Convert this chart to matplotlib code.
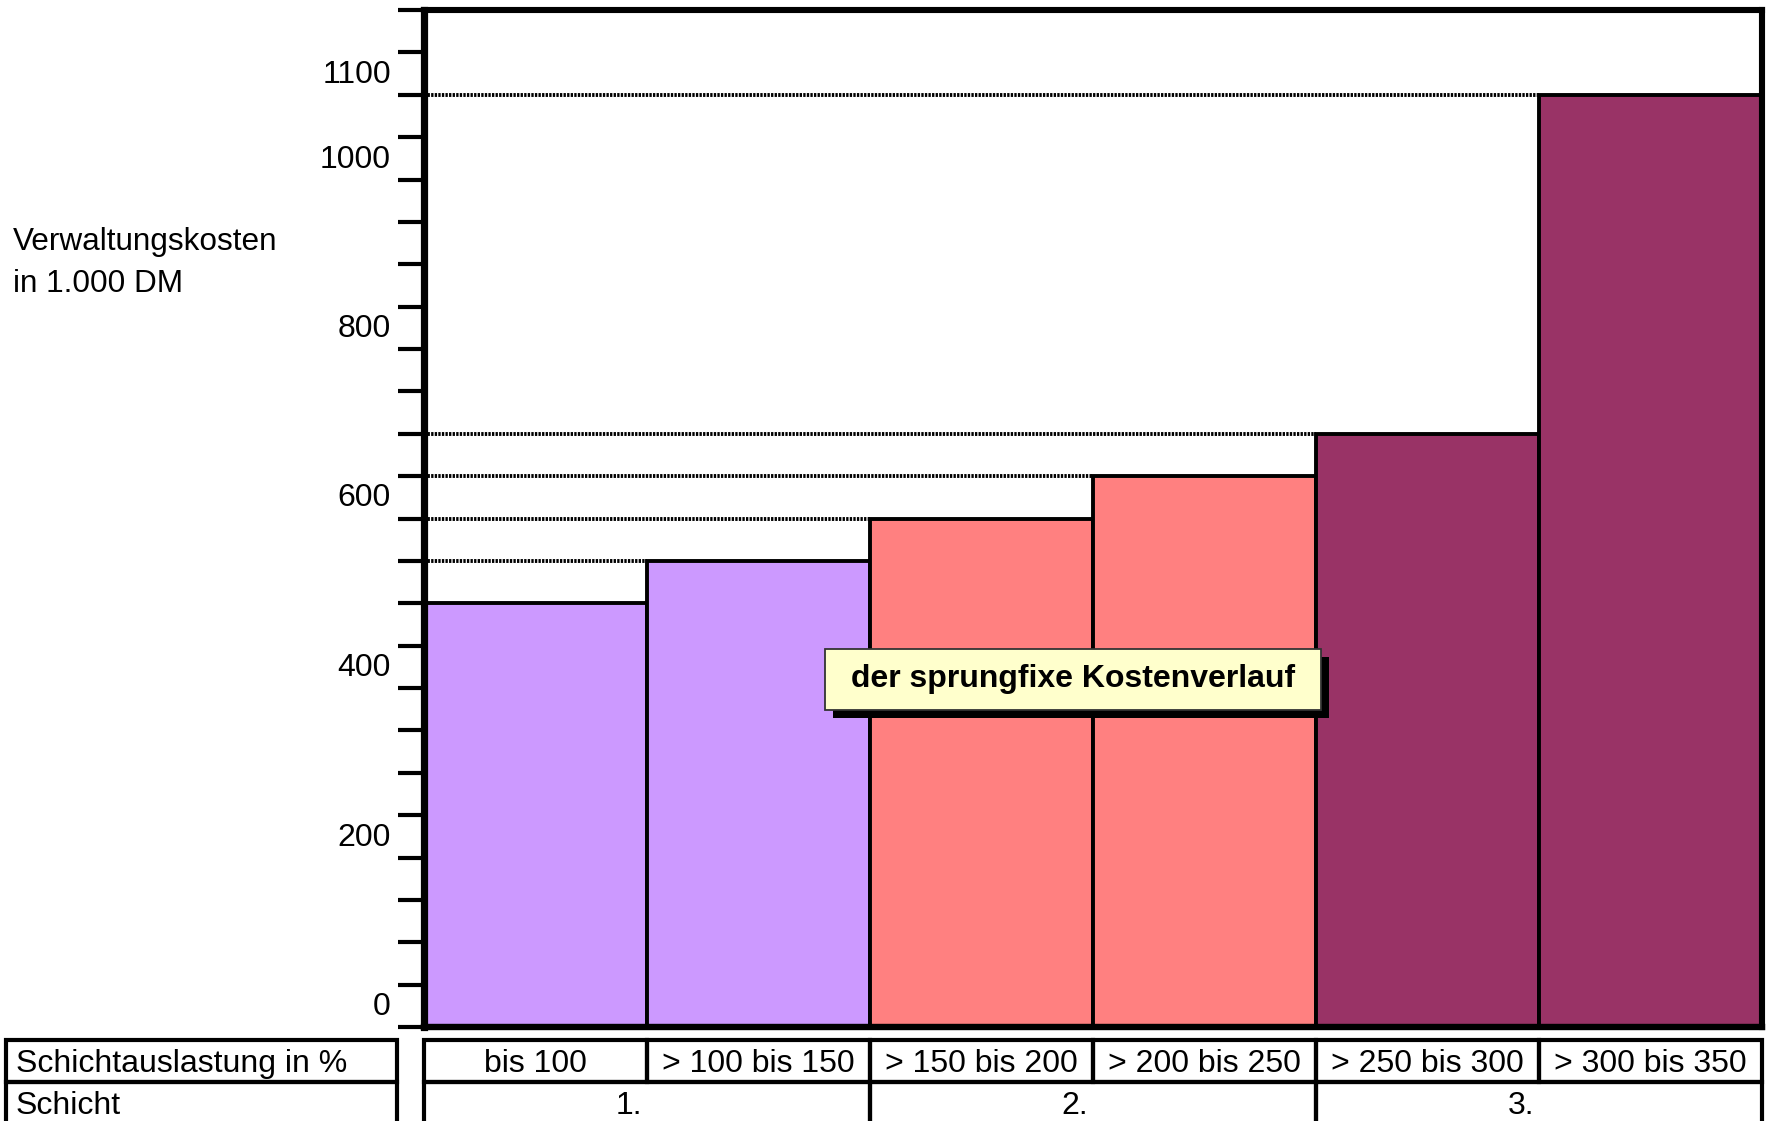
import numpy as np
import matplotlib
matplotlib.use("Agg")
import matplotlib.pyplot as plt
from matplotlib.patches import Rectangle
from matplotlib.transforms import blended_transform_factory, ScaledTranslation

plt.rcParams['font.family'] = ['Liberation Sans', 'DejaVu Sans']

# --- data -------------------------------------------------------------
load_ranges = ["bis 100", "> 100 bis 150", "> 150 bis 200",
               "> 200 bis 250", "> 250 bis 300", "> 300 bis 350"]
costs = [500, 550, 600, 650, 700, 1100]          # Verwaltungskosten in 1.000 DM
shift_of_range = [0, 0, 1, 1, 2, 2]
shift_labels = ["1.", "2.", "3."]
shift_colors = ["#CC99FF", "#FF8080", "#993366"]
ytick_values = [0, 200, 400, 600, 800, 1000, 1100]
y_max = 1200
y_step = 50

W, H = 1766, 1121
FS = 23
fig = plt.figure(figsize=(W / 100, H / 100), dpi=100)
ax = fig.add_axes([424 / W, 1 - 1027 / H, 1338 / W, 1017 / H])

n = len(costs)
x = np.arange(n)
bar_colors = [shift_colors[s] for s in shift_of_range]
ax.bar(x, costs, width=1.0, align='edge', color=bar_colors,
       edgecolor='black', linewidth=2.8, zorder=3)

# dotted guide lines from the axis to each step of the cost curve
ax.hlines(costs[1:], 0, x[1:], colors='black', linewidth=2.8,
          linestyles=(0, (0.6, 0.32)), zorder=2)

ax.set_xlim(0, n)
ax.set_ylim(0, y_max)
ax.set_xticks([])
ax.set_yticks(np.arange(0, y_max + 1, y_step))
ax.set_yticklabels([])
ax.tick_params(axis='y', direction='out', length=18.7, width=3.0, color='black')
for side, lw in (('left', 5.2), ('top', 4.4), ('right', 4.4), ('bottom', 4.6)):
    ax.spines[side].set_linewidth(lw)
    ax.spines[side].set_zorder(5)

# value labels on the y axis (set slightly above their ticks)
ylab_tr = blended_transform_factory(ax.transAxes, ax.transData)
for v in ytick_values:
    ax.annotate(str(v), xy=(0, v), xycoords=ylab_tr, xytext=(-33, 12),
                textcoords='offset pixels', ha='right', va='baseline',
                fontsize=FS, annotation_clip=False)

# axis title
fig.text(13 / W, 1 - 250 / H, "Verwaltungskosten", ha='left', va='baseline', fontsize=22.7)
fig.text(13 / W, 1 - 292 / H, "in 1.000 DM", ha='left', va='baseline', fontsize=22.7)

# caption box with drop shadow
bx0, bx1 = (825 - 424) / 1338, (1321 - 424) / 1338
by0, by1 = (1027 - 710) / 1017, (1027 - 649) / 1017
shadow_tr = ax.transAxes + ScaledTranslation(8 / 100, -8 / 100, fig.dpi_scale_trans)
ax.add_patch(Rectangle((bx0, by0), bx1 - bx0, by1 - by0, transform=shadow_tr,
                       facecolor='black', edgecolor='none', zorder=6, clip_on=False))
ax.add_patch(Rectangle((bx0, by0), bx1 - bx0, by1 - by0, transform=ax.transAxes,
                       facecolor='#FFFFCC', edgecolor='#333333', linewidth=1.3,
                       zorder=7, clip_on=False))
ax.text((bx0 + bx1) / 2, (by0 + by1) / 2, "der sprungfixe Kostenverlauf",
        transform=ax.transAxes, ha='center', va='center', fontsize=FS,
        fontweight='bold', zorder=8)

# --- table under the chart ---------------------------------------------
row1_top, row1_bot = 1 - 1040 / H, 1 - 1082 / H
row2_top, row2_bot = row1_bot, 1 - 1130 / H
tbl_lw = 3.0
tbl_tr = blended_transform_factory(ax.transData, fig.transFigure)

for i, lab in enumerate(load_ranges):
    fig.add_artist(Rectangle((i, row1_bot), 1, row1_top - row1_bot, transform=tbl_tr,
                             facecolor='none', edgecolor='black', linewidth=tbl_lw,
                             clip_on=False))
    fig.text(i + 0.5, 1 - 1072 / H, lab, transform=tbl_tr, ha='center',
             va='baseline', fontsize=FS)

for g, lab in enumerate(shift_labels):
    members = [i for i, s in enumerate(shift_of_range) if s == g]
    g0, g1 = min(members), max(members) + 1
    fig.add_artist(Rectangle((g0, row2_bot), g1 - g0, row2_top - row2_bot,
                             transform=tbl_tr, facecolor='none', edgecolor='black',
                             linewidth=tbl_lw, clip_on=False))
    fig.text((g0 + g1) / 2, 1 - 1114 / H, lab, ha='center', va='baseline',
             fontsize=FS,
             transform=tbl_tr + ScaledTranslation(-18 / 100, 0, fig.dpi_scale_trans))

# row headers
lx0, lx1 = 6 / W, 397 / W
for (top, bot), lab, base in (((row1_top, row1_bot), "Schichtauslastung in %", 1072),
                               ((row2_top, row2_bot), "Schicht", 1114)):
    fig.add_artist(Rectangle((lx0, bot), lx1 - lx0, top - bot, transform=fig.transFigure,
                             facecolor='none', edgecolor='black', linewidth=tbl_lw,
                             clip_on=False))
    fig.text(16 / W, 1 - base / H, lab, ha='left', va='baseline', fontsize=FS)

fig.savefig("out.png", dpi=100)
